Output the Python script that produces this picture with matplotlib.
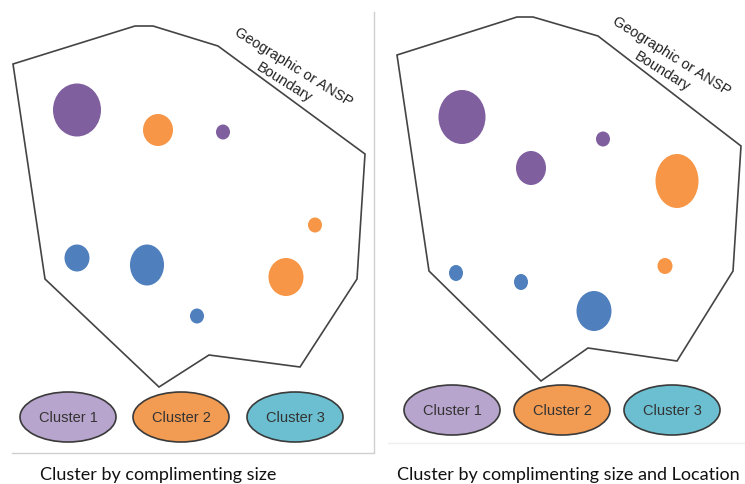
import matplotlib
matplotlib.use("Agg")
import matplotlib.pyplot as plt
from matplotlib.patches import Ellipse, Polygon
import numpy as np

# boundary polygons (pixel coords of the picture)
left_boundary_x = [13, 135, 153, 218, 365, 357, 300, 209, 159, 45]
left_boundary_y = [65, 27, 27, 47, 155, 280, 368, 356, 388, 280]
right_boundary_x = [397, 517, 533, 598, 741, 733, 677, 588, 541, 429]
right_boundary_y = [56, 18, 18, 37, 147, 272, 362, 349, 382, 272]

# points: x, y, width, height, cluster
left_x = [77, 158, 223, 315, 77, 147, 286, 197]
left_y = [111, 131, 133, 226, 259, 266, 278, 317]
left_w = [48, 30, 14, 14, 25, 34, 35, 14]
left_h = [53, 32, 15, 15, 27, 41, 38, 15]
left_cluster = ["p", "o", "p", "o", "b", "b", "o", "b"]

right_x = [462, 531, 603, 677, 665, 456, 521, 594]
right_y = [118, 169, 140, 182, 267, 274, 283, 312]
right_w = [47, 30, 14, 43, 15, 14, 14, 35]
right_h = [54, 34, 15, 54, 16, 16, 16, 40]
right_cluster = ["p", "p", "p", "o", "o", "b", "b", "b"]

legend_labels = ["Cluster 1", "Cluster 2", "Cluster 3"]
legend_colors = ["#b8a5cd", "#f29b52", "#6bbfd0"]
left_legend_x = [68, 181, 295]
right_legend_x = [452, 562, 672]

colors = {"p": "#7f5f9e", "o": "#f79646", "b": "#4f7fbd"}

fig = plt.figure(figsize=(7.45, 4.85), dpi=100)
ax = fig.add_axes([0, 0, 1, 1])
ax.set_xlim(0, 745)
ax.set_ylim(485, 0)
ax.axis("off")

# panel frame lines
ax.plot([374, 374], [13, 453], color="#cfcfcf", lw=1)
ax.plot([12, 374], [454, 454], color="#cfcfcf", lw=1)
ax.plot([388, 745], [444, 444], color="#eeeeee", lw=1)

for bx, by in [(left_boundary_x, left_boundary_y), (right_boundary_x, right_boundary_y)]:
    ax.add_patch(Polygon(np.column_stack([bx, by]), closed=True, fill=False,
                         edgecolor="#444444", lw=1.2))

for xs, ys, ws, hs, cs in [(left_x, left_y, left_w, left_h, left_cluster),
                           (right_x, right_y, right_w, right_h, right_cluster)]:
    for x, y, w, h, c in zip(xs, ys, ws, hs, cs):
        ax.add_patch(Ellipse((x, y), w, h, facecolor=colors[c], edgecolor="none"))

for lx, ly in [(left_legend_x, 418), (right_legend_x, 411)]:
    for x, lab, col in zip(lx, legend_labels, legend_colors):
        ax.add_patch(Ellipse((x, ly), 96, 50, facecolor=col, edgecolor="#3a3a3a", lw=1.2))
        ax.text(x, ly, lab, ha="center", va="center", fontsize=10.5,
                family="Liberation Sans", color="#333333")

ax.text(289, 75, "Geographic or ANSP\nBoundary", rotation=-32, ha="center", va="center",
        fontsize=10.5, family="Liberation Sans", color="#222222", linespacing=1.35,
        rotation_mode="anchor")
ax.text(667, 64, "Geographic or ANSP\nBoundary", rotation=-32, ha="center", va="center",
        fontsize=10.5, family="Liberation Sans", color="#222222", linespacing=1.35,
        rotation_mode="anchor")

ax.text(40, 480, "Cluster by complimenting size", ha="left", va="baseline",
        fontsize=13, family="Lato", color="#111111")
ax.text(397, 480, "Cluster by complimenting size and Location", ha="left", va="baseline",
        fontsize=13, family="Lato", color="#111111")

fig.savefig("out.png", dpi=100)
